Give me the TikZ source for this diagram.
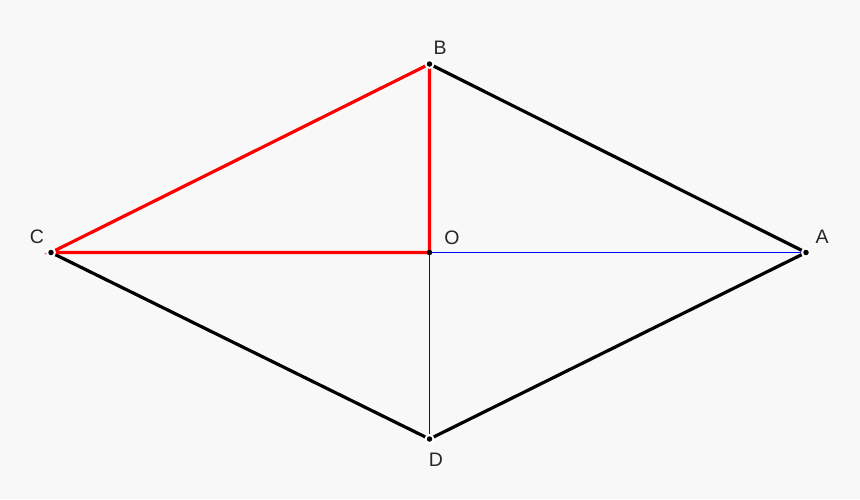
\documentclass[tikz,border=0pt]{standalone}
\usepackage{fontspec}
\setmainfont{Liberation Sans}
\definecolor{bg}{HTML}{F8F8F8}
\begin{document}
\begin{tikzpicture}[x=1pt,y=-1pt,
  blk/.style={line width=3.2pt,black},
  redl/.style={line width=3.2pt,red},
  bluel/.style={line width=1.6pt,blue},
  halo/.style={fill=white,draw=none,circle,minimum size=10pt,inner sep=0pt},
  dotp/.style={fill=black,circle,minimum size=5.5pt,inner sep=0pt},
  lbl/.style={font=\fontsize{19.5}{22}\selectfont,text=black!85}]
\fill[bg] (0,0) rectangle (860,499);
\useasboundingbox (0,0) rectangle (860,499);
\coordinate (B) at (429.5,64);
\coordinate (C) at (51,252.5);
\coordinate (O) at (429.5,252.5);
\coordinate (A) at (806,252.5);
\coordinate (D) at (429.5,439);
\draw[bluel] (O) -- (A);
\draw[bluel] (O) -- (D);
\draw[blk] (B) -- (A) -- (D) -- (C);
\draw[redl] (C) -- (B) -- (O) -- cycle;
\foreach \p in {B,C,A,D} \node[halo] at (\p) {};
\foreach \p in {B,C,A,D,O} \node[dotp] (d\p) at (\p) {};
\node[lbl] (lB) at (440,48) {B};
\node[lbl] (lC) at (37,237) {C};
\node[lbl] (lO) at (452,238) {O};
\node[lbl] (lA) at (822,237) {A};
\node[lbl] (lD) at (436,460) {D};
\end{tikzpicture}
\end{document}
